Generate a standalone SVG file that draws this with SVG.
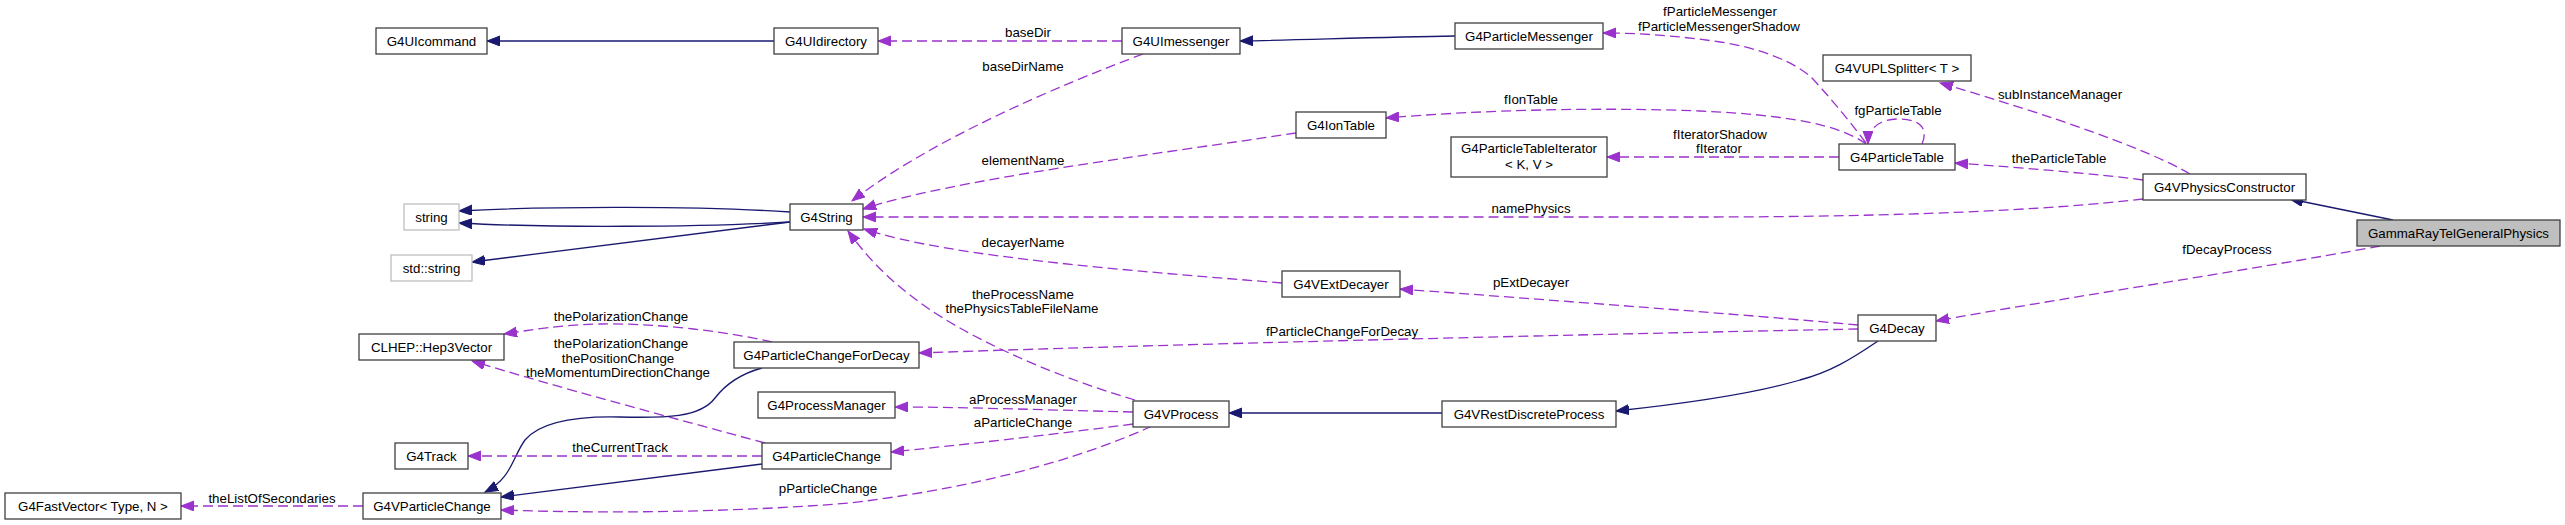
<svg xmlns="http://www.w3.org/2000/svg" width="2565" height="525" viewBox="0 0 2565 525">
<style>
.n rect{fill:#fff;stroke:#404040;stroke-width:1.3}
.n.g rect{stroke:#bfbfbf}
.n.h rect{fill:#bfbfbf}
text{font-family:"Liberation Sans",Arial,sans-serif;font-size:13.3px;fill:#000;text-anchor:middle}
.i{fill:none;stroke:#191970;stroke-width:1.3;marker-end:url(#an)}
.u{fill:none;stroke:#9a32cd;stroke-width:1.3;stroke-dasharray:10,5;marker-end:url(#ap)}
</style>
<defs>
<marker id="an" markerUnits="userSpaceOnUse" markerWidth="15" markerHeight="12" refX="13" refY="5" orient="auto"><path d="M0,0 L13,5 L0,10 z" fill="#191970" stroke="#191970" stroke-width="1"/></marker>
<marker id="ap" markerUnits="userSpaceOnUse" markerWidth="15" markerHeight="12" refX="13" refY="5" orient="auto"><path d="M0,0 L13,5 L0,10 z" fill="#9a32cd" stroke="#9a32cd" stroke-width="1"/></marker>
</defs>
<rect width="2565" height="525" fill="#fff"/>
<g id="edges">
<path class="i" d="M774,41 L487,41"/>
<path class="u" d="M1122,41 L878,41"/>
<path class="i" d="M1455,36 C1380,37 1300,40 1240,41"/>
<path class="u" d="M1866,143 C1845,115 1825,92 1812,78 C1795,62 1760,48 1720,42 C1680,36 1640,33 1603,33"/>
<path class="u" d="M1866,144 C1840,125 1790,115 1700,111 C1600,107 1480,110 1386,118"/>
<path class="u" d="M1296,133 C1150,155 950,180 863,209"/>
<path class="u" d="M1143,54 C1060,85 930,140 852,201"/>
<path class="u" d="M2143,199 C2050,210 1900,217 1700,217 L863,217"/>
<path class="u" d="M1282,283 C1150,272 950,258 864,229"/>
<path class="u" d="M1135,400 C1050,375 960,335 910,295 C880,272 862,250 848,231"/>
<path class="u" d="M1858,325 C1750,315 1550,300 1400,289"/>
<path class="u" d="M1858,329 C1700,332 1200,343 919,353"/>
<path class="i" d="M1442,413 L1229,413"/>
<path class="i" d="M1878,341 C1850,360 1830,372 1800,380 C1760,392 1700,402 1616,411"/>
<path class="i" d="M2393,220 L2290,199"/>
<path class="u" d="M2380,246 C2250,270 2050,300 1936,321"/>
<path class="u" d="M2143,180 C2100,174 2000,166 1955,163"/>
<path class="u" d="M2190,174 C2150,150 2050,115 1940,83"/>
<path class="u" d="M1839,157 L1607,157"/>
<path class="u" d="M1922,144 C1930,125 1915,119 1898,119 C1880,119 1868,128 1868,144"/>
<path class="u" d="M772,342 C720,330 650,323 600,324 C560,325 530,330 504,334"/>
<path class="u" d="M765,443 C680,420 550,385 472,361"/>
<path class="i" d="M762,368 C740,374 725,385 715,398 C700,418 665,418 620,417 C575,416 540,422 525,440 C512,458 512,478 485,492"/>
<path class="i" d="M762,464 L501,497"/>
<path class="u" d="M762,456 L468,456"/>
<path class="u" d="M363,506 L181,506"/>
<path class="u" d="M1152,426 C1100,450 1000,485 850,503 C700,515 560,512 501,510"/>
<path class="u" d="M1133,412 C1050,410 960,407 895,407"/>
<path class="u" d="M1133,424 C1050,435 960,445 891,452"/>
<path class="i" d="M790,212 C700,206 550,206 459,211"/>
<path class="i" d="M790,222 C700,227 550,228 459,223"/>
<path class="i" d="M790,222 L472,262"/>
<text x="1028" y="37">baseDir</text>
<text x="1023" y="71">baseDirName</text>
<text x="1720" y="16">fParticleMessenger</text>
<text x="1719" y="31">fParticleMessengerShadow</text>
<text x="1531" y="104">fIonTable</text>
<text x="1023" y="165">elementName</text>
<text x="1531" y="213">namePhysics</text>
<text x="1023" y="247">decayerName</text>
<text x="1023" y="299">theProcessName</text>
<text x="1022" y="313">thePhysicsTableFileName</text>
<text x="1531" y="287">pExtDecayer</text>
<text x="1342" y="336">fParticleChangeForDecay</text>
<text x="2227" y="254">fDecayProcess</text>
<text x="2059" y="163">theParticleTable</text>
<text x="2060" y="99">subInstanceManager</text>
<text x="1720" y="139">fIteratorShadow</text>
<text x="1719" y="153">fIterator</text>
<text x="1898" y="115">fgParticleTable</text>
<text x="621" y="321">thePolarizationChange</text>
<text x="621" y="348">thePolarizationChange</text>
<text x="618" y="363">thePositionChange</text>
<text x="618" y="377">theMomentumDirectionChange</text>
<text x="620" y="452">theCurrentTrack</text>
<text x="272" y="503">theListOfSecondaries</text>
<text x="828" y="493">pParticleChange</text>
<text x="1023" y="404">aProcessManager</text>
<text x="1023" y="427">aParticleChange</text>
</g>
<g id="G4UIcommand" class="n"><rect x="376" y="28" width="111" height="26"/><text x="431.5" y="46">G4UIcommand</text></g>
<g id="G4UIdirectory" class="n"><rect x="774" y="28" width="104" height="26"/><text x="826" y="46">G4UIdirectory</text></g>
<g id="G4UImessenger" class="n"><rect x="1122" y="28" width="118" height="26"/><text x="1181" y="46">G4UImessenger</text></g>
<g id="G4ParticleMessenger" class="n"><rect x="1455" y="23" width="148" height="26"/><text x="1529" y="41">G4ParticleMessenger</text></g>
<g id="G4VUPLSplitter" class="n"><rect x="1823" y="55" width="148" height="26"/><text x="1897" y="73">G4VUPLSplitter&lt; T &gt;</text></g>
<g id="G4IonTable" class="n"><rect x="1296" y="112" width="90" height="26"/><text x="1341" y="130">G4IonTable</text></g>
<g id="G4ParticleTableIterator" class="n"><rect x="1451" y="137" width="156" height="40"/><text x="1529" y="153">G4ParticleTableIterator</text><text x="1529" y="169">&lt; K, V &gt;</text></g>
<g id="G4ParticleTable" class="n"><rect x="1839" y="144" width="116" height="26"/><text x="1897" y="162">G4ParticleTable</text></g>
<g id="G4VPhysicsConstructor" class="n"><rect x="2143" y="174" width="163" height="26"/><text x="2224.5" y="192">G4VPhysicsConstructor</text></g>
<g id="GammaRayTelGeneralPhysics" class="n h"><rect x="2357" y="220" width="203" height="26"/><text x="2458.5" y="238">GammaRayTelGeneralPhysics</text></g>
<g id="string" class="n g"><rect x="404" y="204" width="55" height="26"/><text x="431.5" y="222">string</text></g>
<g id="std_string" class="n g"><rect x="391" y="255" width="81" height="26"/><text x="431.5" y="273">std::string</text></g>
<g id="G4String" class="n"><rect x="790" y="204" width="73" height="26"/><text x="826.5" y="222">G4String</text></g>
<g id="Hep3Vector" class="n"><rect x="359" y="334" width="145" height="26"/><text x="431.5" y="352">CLHEP::Hep3Vector</text></g>
<g id="G4Track" class="n"><rect x="395" y="443" width="73" height="26"/><text x="431.5" y="461">G4Track</text></g>
<g id="G4FastVector" class="n"><rect x="5" y="493" width="176" height="26"/><text x="93" y="511">G4FastVector&lt; Type, N &gt;</text></g>
<g id="G4VParticleChange" class="n"><rect x="363" y="493" width="138" height="26"/><text x="432" y="511">G4VParticleChange</text></g>
<g id="G4ParticleChangeForDecay" class="n"><rect x="734" y="342" width="185" height="26"/><text x="826.5" y="360">G4ParticleChangeForDecay</text></g>
<g id="G4ProcessManager" class="n"><rect x="758" y="392" width="137" height="26"/><text x="826.5" y="410">G4ProcessManager</text></g>
<g id="G4ParticleChange" class="n"><rect x="762" y="443" width="129" height="26"/><text x="826.5" y="461">G4ParticleChange</text></g>
<g id="G4VProcess" class="n"><rect x="1133" y="401" width="96" height="26"/><text x="1181" y="419">G4VProcess</text></g>
<g id="G4VExtDecayer" class="n"><rect x="1282" y="271" width="118" height="26"/><text x="1341" y="289">G4VExtDecayer</text></g>
<g id="G4VRestDiscreteProcess" class="n"><rect x="1442" y="401" width="174" height="26"/><text x="1529" y="419">G4VRestDiscreteProcess</text></g>
<g id="G4Decay" class="n"><rect x="1858" y="315" width="78" height="26"/><text x="1897" y="333">G4Decay</text></g>
</svg>
